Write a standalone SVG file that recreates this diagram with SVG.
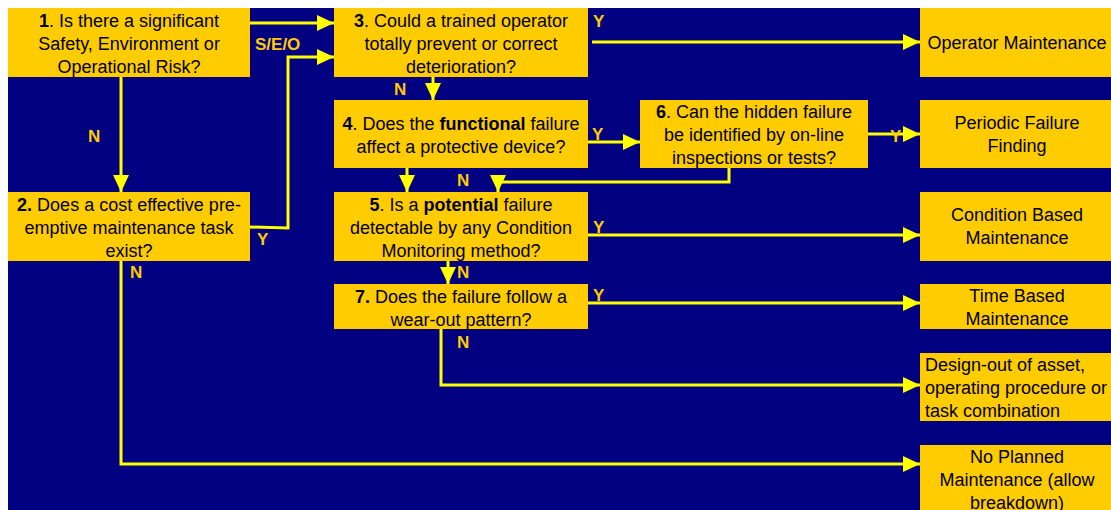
<svg xmlns="http://www.w3.org/2000/svg" width="1111" height="510" viewBox="0 0 1111 510">
<style>
.box{fill:#FFCC00}
.t{font-family:"Liberation Sans",Arial,sans-serif;font-size:18px;fill:#000;text-anchor:middle}
.tl{font-family:"Liberation Sans",Arial,sans-serif;font-size:18px;fill:#000}
.b{font-weight:bold}
.lbl{font-family:"Liberation Sans",Arial,sans-serif;font-size:17px;font-weight:bold;fill:#FFCC00}
.c{fill:none;stroke:#FFFF00;stroke-width:3}
</style>
<defs>
<marker id="ah" markerUnits="userSpaceOnUse" markerWidth="17" markerHeight="16" refX="17" refY="8" orient="auto">
<path d="M0,0 L17,8 L0,16 Z" fill="#FFFF00"/>
</marker>
</defs>
<rect x="0" y="0" width="1111" height="510" fill="#FFFFFF"/>
<rect x="8" y="8" width="1103" height="502" fill="#000080"/>
<g id="connectors">
<path class="c" d="M250,23 L334,23" marker-end="url(#ah)"/>
<path class="c" d="M250,227 L288,228 L288,57 L334,57" marker-end="url(#ah)"/>
<path class="c" d="M592,42 L920,42" marker-end="url(#ah)"/>
<path class="c" d="M433,77 L433,100" marker-end="url(#ah)"/>
<path class="c" d="M588,142 L640,142" marker-end="url(#ah)"/>
<path class="c" d="M868,134 L920,134" marker-end="url(#ah)"/>
<path class="c" d="M729,168 L729,182 L498,182 L498,192" marker-end="url(#ah)"/>
<path class="c" d="M407,168 L407,192" marker-end="url(#ah)"/>
<path class="c" d="M588,235 L920,235" marker-end="url(#ah)"/>
<path class="c" d="M448,261 L448,284" marker-end="url(#ah)"/>
<path class="c" d="M588,303 L920,303" marker-end="url(#ah)"/>
<path class="c" d="M441,329 L441,385 L920,385" marker-end="url(#ah)"/>
<path class="c" d="M121,77 L121,192" marker-end="url(#ah)"/>
<path class="c" d="M121,261 L121,464 L920,464" marker-end="url(#ah)"/>
<text class="lbl" x="255" y="50">S/E/O</text>
<text class="lbl" x="257" y="245">Y</text>
<text class="lbl" x="88" y="142">N</text>
<text class="lbl" x="130" y="278">N</text>
<text class="lbl" x="593" y="27">Y</text>
<text class="lbl" x="394" y="95">N</text>
<text class="lbl" x="592" y="140">Y</text>
<text class="lbl" x="890" y="142">Y</text>
<text class="lbl" x="457" y="186">N</text>
<text class="lbl" x="593" y="233">Y</text>
<text class="lbl" x="457" y="278">N</text>
<text class="lbl" x="593" y="301">Y</text>
<text class="lbl" x="457" y="348">N</text>
</g>
<g id="q1">
<rect class="box" x="8" y="8" width="242" height="69"/>
<text class="t" x="129" y="27"><tspan class="b">1</tspan>. Is there a significant</text>
<text class="t" x="129" y="50">Safety, Environment or</text>
<text class="t" x="129" y="73">Operational Risk?</text>
</g>
<g id="q2">
<rect class="box" x="8" y="192" width="242" height="69"/>
<text class="t" x="129" y="211"><tspan class="b">2.</tspan> Does a cost effective pre-</text>
<text class="t" x="129" y="234">emptive maintenance task</text>
<text class="t" x="129" y="257">exist?</text>
</g>
<g id="q3">
<rect class="box" x="334" y="8" width="254" height="69"/>
<text class="t" x="461" y="27"><tspan class="b">3</tspan>. Could a trained operator</text>
<text class="t" x="461" y="50">totally prevent or correct</text>
<text class="t" x="461" y="73">deterioration?</text>
</g>
<g id="q4">
<rect class="box" x="334" y="100" width="254" height="68"/>
<text class="t" x="461" y="130"><tspan class="b">4</tspan>. Does the <tspan class="b">functional</tspan> failure</text>
<text class="t" x="461" y="153">affect a protective device?</text>
</g>
<g id="q5">
<rect class="box" x="334" y="192" width="254" height="69"/>
<text class="t" x="461" y="211"><tspan class="b">5</tspan>. Is a <tspan class="b">potential</tspan> failure</text>
<text class="t" x="461" y="234">detectable by any Condition</text>
<text class="t" x="461" y="257">Monitoring method?</text>
</g>
<g id="q6">
<rect class="box" x="640" y="100" width="228" height="68"/>
<text class="t" x="754" y="118"><tspan class="b">6</tspan>. Can the hidden failure</text>
<text class="t" x="754" y="141">be identified by on-line</text>
<text class="t" x="754" y="164">inspections or tests?</text>
</g>
<g id="q7">
<rect class="box" x="334" y="284" width="254" height="45"/>
<text class="t" x="461" y="303"><tspan class="b">7.</tspan> Does the failure follow a</text>
<text class="t" x="461" y="326">wear-out pattern?</text>
</g>
<g id="operator-maintenance">
<rect class="box" x="920" y="8" width="191" height="69"/>
<text class="t" x="1017" y="49">Operator Maintenance</text>
</g>
<g id="periodic-failure-finding">
<rect class="box" x="920" y="100" width="191" height="68"/>
<text class="t" x="1017" y="129">Periodic Failure</text>
<text class="t" x="1017" y="152">Finding</text>
</g>
<g id="condition-based">
<rect class="box" x="920" y="192" width="191" height="69"/>
<text class="t" x="1017" y="221">Condition Based</text>
<text class="t" x="1017" y="244">Maintenance</text>
</g>
<g id="time-based">
<rect class="box" x="920" y="284" width="191" height="45"/>
<text class="t" x="1017" y="302">Time Based</text>
<text class="t" x="1017" y="325">Maintenance</text>
</g>
<g id="design-out">
<rect class="box" x="920" y="353" width="191" height="68"/>
<text class="tl" x="925" y="371">Design-out of asset,</text>
<text class="tl" x="925" y="394">operating procedure or</text>
<text class="tl" x="925" y="417">task combination</text>
</g>
<g id="no-planned">
<rect class="box" x="920" y="445" width="191" height="65"/>
<text class="t" x="1017" y="463">No Planned</text>
<text class="t" x="1017" y="486">Maintenance (allow</text>
<text class="t" x="1017" y="509">breakdown)</text>
</g>
</svg>
